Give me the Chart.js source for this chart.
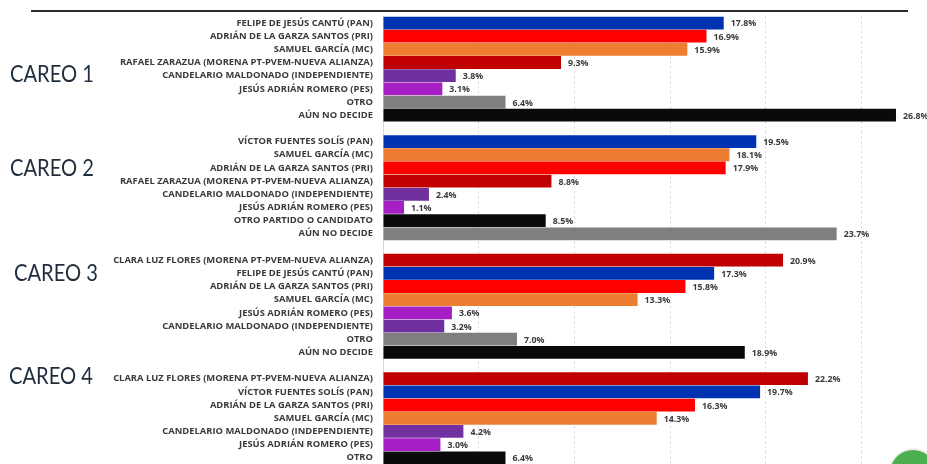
<!DOCTYPE html>
<html><head><meta charset="utf-8">
<style>html,body{margin:0;padding:0;background:#fff;overflow:hidden;height:464px}#w{width:927px;height:464px;overflow:hidden}canvas{filter:blur(0.45px);display:block}</style>
<script src="https://cdn.jsdelivr.net/npm/chart.js@4"></script></head>
<body><div id="w"><canvas id="c" width="927" height="472"></canvas></div>
<script>
const BLUE='#0033B2',RED='#FF0000',ORANGE='#ED7D31',DRED='#C00000',PURPLE='#7030A0',MAG='#A51FC4',GREY='#7F7F7F',BLACK='#0A0A0A';
const names1=['FELIPE DE JESÚS CANTÚ (PAN)','ADRIÁN DE LA GARZA SANTOS (PRI)','SAMUEL GARCÍA (MC)','RAFAEL ZARAZUA (MORENA PT-PVEM-NUEVA ALIANZA)','CANDELARIO MALDONADO (INDEPENDIENTE)','JESÚS ADRIÁN ROMERO (PES)','OTRO','AÚN NO DECIDE'];
const values1=[17.8,16.9,15.9,9.3,3.8,3.1,6.4,26.8];
const colors1=[BLUE,RED,ORANGE,DRED,PURPLE,MAG,GREY,BLACK];
const names2=['VÍCTOR FUENTES SOLÍS (PAN)','SAMUEL GARCÍA (MC)','ADRIÁN DE LA GARZA SANTOS (PRI)','RAFAEL ZARAZUA (MORENA PT-PVEM-NUEVA ALIANZA)','CANDELARIO MALDONADO (INDEPENDIENTE)','JESÚS ADRIÁN ROMERO (PES)','OTRO PARTIDO O CANDIDATO','AÚN NO DECIDE'];
const values2=[19.5,18.1,17.9,8.8,2.4,1.1,8.5,23.7];
const colors2=[BLUE,ORANGE,RED,DRED,PURPLE,MAG,BLACK,GREY];
const names3=['CLARA LUZ FLORES (MORENA PT-PVEM-NUEVA ALIANZA)','FELIPE DE JESÚS CANTÚ (PAN)','ADRIÁN DE LA GARZA SANTOS (PRI)','SAMUEL GARCÍA (MC)','JESÚS ADRIÁN ROMERO (PES)','CANDELARIO MALDONADO (INDEPENDIENTE)','OTRO','AÚN NO DECIDE'];
const values3=[20.9,17.3,15.8,13.3,3.6,3.2,7.0,18.9];
const colors3=[DRED,BLUE,RED,ORANGE,MAG,PURPLE,GREY,BLACK];
const names4=['CLARA LUZ FLORES (MORENA PT-PVEM-NUEVA ALIANZA)','VÍCTOR FUENTES SOLÍS (PAN)','ADRIÁN DE LA GARZA SANTOS (PRI)','SAMUEL GARCÍA (MC)','CANDELARIO MALDONADO (INDEPENDIENTE)','JESÚS ADRIÁN ROMERO (PES)','OTRO'];
const values4=[22.2,19.7,16.3,14.3,4.2,3.0,6.4];
const colors4=[DRED,BLUE,RED,ORANGE,PURPLE,MAG,BLACK];
const groupTitles=[['CAREO 1',10,75],['CAREO 2',10,169],['CAREO 3',14,274],['CAREO 4',9,377]];
const labels=[...names1,'',...names2,'',...names3,'',...names4];
const values=[...values1,null,...values2,null,...values3,null,...values4];
const colors=[...colors1,'#fff',...colors2,'#fff',...colors3,'#fff',...colors4];
const FF='"Open Sans","Liberation Sans",sans-serif';
const extras={id:'extras',
 afterDatasetsDraw(ch){const c=ch.ctx;c.save();
  const m=ch.getDatasetMeta(0);
  c.font='bold 8.8px '+FF;c.fillStyle='#3a3a3a';c.textBaseline='middle';c.textAlign='left';
  m.data.forEach((b,i)=>{if(values[i]==null)return;c.fillText(values[i].toFixed(1)+'%',b.x+7,b.y+1);});
  c.fillStyle='#2b2b2b';c.fillRect(31,10,877,2);
  c.font='23px Lato,"Open Sans",sans-serif';c.fillStyle='#1f2d3d';
  groupTitles.forEach(g=>c.fillText(g[0],g[1],g[2],84));
  c.beginPath();c.arc(913,473,25,0,Math.PI*2);c.fillStyle='#efefef';c.fill();
  c.beginPath();c.arc(913,473,23,0,Math.PI*2);c.fillStyle='#4CAF50';c.fill();
  c.restore();}
};
new Chart(document.getElementById('c'),{type:'bar',
 data:{labels,datasets:[{data:values,backgroundColor:colors,borderWidth:0,barPercentage:0.97,categoryPercentage:1}]},
 plugins:[extras],
 options:{indexAxis:'y',responsive:false,animation:false,
  layout:{padding:{top:16.4,left:0,right:0,bottom:0}},
  plugins:{legend:{display:false},tooltip:{enabled:false},title:{display:false}},
  scales:{
   y:{afterFit(s){s.width=383;},offset:true,border:{color:'#d9d9d9',width:1},grid:{display:false},
      ticks:{autoSkip:false,padding:2,color:'#3a3a3a',font:{family:FF,weight:'bold',size:9.4}}},
   x:{min:0,max:28.42,afterFit(s){s.height=0;},border:{display:false,dash:[2,3]},grid:{color:'#d4d4d4',lineWidth:1,tickLength:0},
      afterBuildTicks(s){s.ticks=[0,5,10,15,20,25].map(v=>({value:v}));},
      ticks:{display:false}}
  }}});
</script></body></html>
